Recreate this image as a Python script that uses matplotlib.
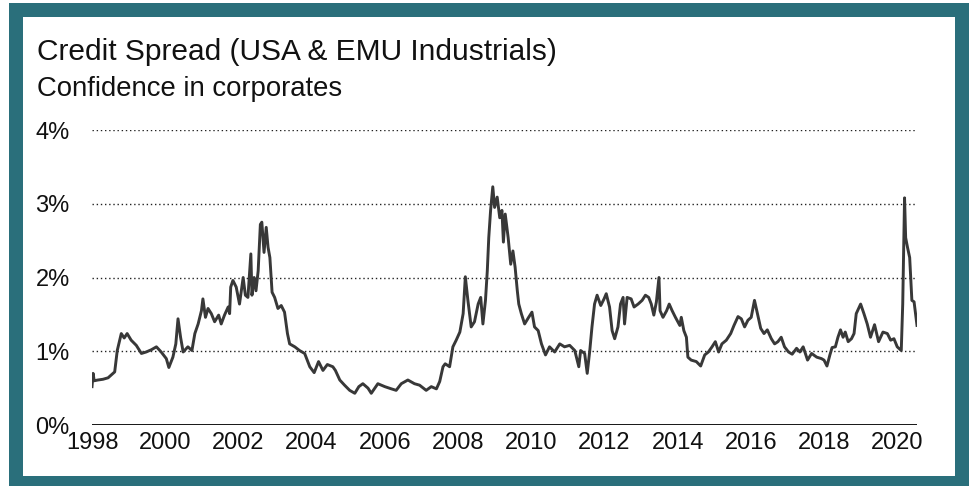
import matplotlib.pyplot as plt
from matplotlib.patches import Rectangle

plt.rcParams['font.family'] = ['Liberation Sans', 'DejaVu Sans']

# decimal year of each reading
dates = [
    1998.00, 1998.03, 1998.06, 1998.16, 1998.30, 1998.44, 1998.62, 1998.69, 1998.80, 1998.88,
    1998.96, 1999.07, 1999.21, 1999.35, 1999.48, 1999.62, 1999.76, 1999.89, 2000.03, 2000.10,
    2000.21, 2000.29, 2000.35, 2000.42, 2000.49, 2000.62, 2000.73, 2000.81, 2000.90, 2000.99,
    2001.03, 2001.10, 2001.17, 2001.26, 2001.35, 2001.46, 2001.53, 2001.62, 2001.72, 2001.76,
    2001.79, 2001.85, 2001.94, 2002.03, 2002.13, 2002.19, 2002.26, 2002.34, 2002.37, 2002.43,
    2002.48, 2002.54, 2002.60, 2002.64, 2002.70, 2002.76, 2002.81, 2002.86, 2002.92, 2002.99,
    2003.08, 2003.17, 2003.26, 2003.34, 2003.40, 2003.54, 2003.67, 2003.81, 2003.95, 2004.07,
    2004.19, 2004.31, 2004.43, 2004.58, 2004.65, 2004.77, 2004.90, 2005.04, 2005.18, 2005.29,
    2005.40, 2005.54, 2005.63, 2005.81, 2006.00, 2006.18, 2006.31, 2006.45, 2006.63, 2006.81,
    2006.95, 2007.13, 2007.27, 2007.41, 2007.50, 2007.59, 2007.65, 2007.77, 2007.86, 2007.95,
    2008.05, 2008.14, 2008.20, 2008.27, 2008.36, 2008.45, 2008.55, 2008.62, 2008.68, 2008.75,
    2008.80, 2008.84, 2008.89, 2008.95, 2009.00, 2009.07, 2009.14, 2009.20, 2009.24, 2009.29,
    2009.37, 2009.44, 2009.50, 2009.56, 2009.62, 2009.66, 2009.73, 2009.82, 2009.93, 2010.02,
    2010.09, 2010.19, 2010.28, 2010.39, 2010.50, 2010.64, 2010.78, 2010.91, 2011.05, 2011.19,
    2011.30, 2011.35, 2011.46, 2011.53, 2011.60, 2011.66, 2011.73, 2011.80, 2011.90, 2011.99,
    2012.05, 2012.14, 2012.21, 2012.28, 2012.37, 2012.44, 2012.51, 2012.55, 2012.62, 2012.73,
    2012.81, 2012.92, 2013.03, 2013.12, 2013.21, 2013.28, 2013.35, 2013.42, 2013.49, 2013.52,
    2013.60, 2013.70, 2013.77, 2013.85, 2013.94, 2014.06, 2014.10, 2014.17, 2014.24, 2014.28,
    2014.37, 2014.51, 2014.63, 2014.74, 2014.84, 2014.94, 2015.03, 2015.12, 2015.21, 2015.33,
    2015.45, 2015.54, 2015.65, 2015.74, 2015.83, 2015.92, 2016.01, 2016.10, 2016.18, 2016.27,
    2016.36, 2016.45, 2016.56, 2016.65, 2016.74, 2016.83, 2016.92, 2017.03, 2017.13, 2017.25,
    2017.34, 2017.43, 2017.55, 2017.66, 2017.80, 2017.93, 2018.00, 2018.08, 2018.16, 2018.22,
    2018.31, 2018.38, 2018.45, 2018.52, 2018.58, 2018.66, 2018.75, 2018.82, 2018.88, 2019.00,
    2019.09, 2019.18, 2019.27, 2019.38, 2019.49, 2019.61, 2019.73, 2019.82, 2019.91, 2020.00,
    2020.11, 2020.15, 2020.20, 2020.23, 2020.28, 2020.34, 2020.40, 2020.46, 2020.54,
]

# credit spread, percent
spread = [
    0.52, 0.70, 0.60, 0.61, 0.62, 0.64, 0.72, 1.01, 1.24, 1.18,
    1.24, 1.15, 1.08, 0.97, 0.99, 1.02, 1.06, 0.99, 0.90, 0.78,
    0.92, 1.10, 1.44, 1.19, 0.99, 1.06, 1.01, 1.24, 1.37, 1.55,
    1.71, 1.46, 1.58, 1.51, 1.40, 1.49, 1.37, 1.49, 1.60, 1.51,
    1.87, 1.96, 1.87, 1.64, 2.00, 1.76, 1.73, 2.32, 1.76, 2.00,
    1.82, 2.09, 2.72, 2.75, 2.34, 2.68, 2.41, 2.27, 1.80, 1.73,
    1.58, 1.62, 1.53, 1.24, 1.10, 1.06, 1.01, 0.97, 0.79, 0.71,
    0.86, 0.74, 0.82, 0.79, 0.74, 0.61, 0.54, 0.47, 0.43, 0.52,
    0.56, 0.50, 0.43, 0.56, 0.52, 0.49, 0.47, 0.56, 0.61, 0.56,
    0.54, 0.47, 0.52, 0.49, 0.59, 0.79, 0.83, 0.79, 1.06, 1.15,
    1.26, 1.51, 2.01, 1.69, 1.33, 1.40, 1.64, 1.73, 1.37, 1.69,
    2.09, 2.54, 2.91, 3.23, 2.95, 3.09, 2.81, 2.91, 2.48, 2.86,
    2.54, 2.18, 2.36, 2.14, 1.82, 1.64, 1.51, 1.37, 1.46, 1.53,
    1.33, 1.28, 1.10, 0.95, 1.06, 0.99, 1.10, 1.06, 1.08, 1.01,
    0.79, 1.01, 0.97, 0.70, 1.01, 1.33, 1.64, 1.76, 1.62, 1.71,
    1.78, 1.60, 1.28, 1.17, 1.33, 1.64, 1.73, 1.37, 1.73, 1.71,
    1.60, 1.64, 1.69, 1.76, 1.73, 1.64, 1.49, 1.67, 2.00, 1.55,
    1.46, 1.55, 1.64, 1.55, 1.46, 1.35, 1.46, 1.28, 1.19, 0.92,
    0.88, 0.86, 0.80, 0.95, 0.99, 1.06, 1.13, 0.99, 1.10, 1.15,
    1.24, 1.35, 1.47, 1.44, 1.33, 1.42, 1.46, 1.69, 1.51, 1.31,
    1.24, 1.29, 1.17, 1.10, 1.13, 1.19, 1.06, 0.99, 0.96, 1.04,
    0.99, 1.06, 0.88, 0.97, 0.92, 0.90, 0.88, 0.80, 0.95, 1.05,
    1.06, 1.19, 1.29, 1.19, 1.26, 1.13, 1.17, 1.24, 1.51, 1.64,
    1.51, 1.37, 1.19, 1.36, 1.13, 1.26, 1.24, 1.15, 1.17, 1.06,
    1.01, 1.64, 3.08, 2.54, 2.41, 2.27, 1.69, 1.67, 1.35,
]

years = list(range(1998, 2021, 2))
pct_ticks = [0, 1, 2, 3, 4]

W, H = 969, 486
fig = plt.figure(figsize=(W / 100, H / 100), dpi=100)
fig.patch.set_facecolor('white')

# teal frame
teal = '#2a6f7b'
fig.patches.append(Rectangle((9 / W, 0), 1, 1 - 3 / H, transform=fig.transFigure,
                             facecolor=teal, edgecolor='none', zorder=-2))
fig.patches.append(Rectangle((23 / W, 10 / H), (955 - 23) / W, (476 - 17) / H,
                             transform=fig.transFigure, facecolor='white',
                             edgecolor='none', zorder=-1))

ax = fig.add_axes([92 / W, 1 - 425 / H, (917 - 92) / W, (425 - 130) / H])
ax.set_facecolor('none')
ax.set_zorder(2)

ax.plot(dates, spread, color='#383838', lw=2.1, zorder=3, solid_joinstyle='round')

ax.set_xlim(1998, 2020.54)
ax.set_ylim(0, 4)
ax.set_xticks(years)
ax.set_xticklabels([str(y) for y in years])
ax.set_yticks(pct_ticks)
ax.set_yticklabels([f'{p}%' for p in pct_ticks])
ax.tick_params(length=0, labelsize=17, colors='#111111')
ax.tick_params(axis='y', pad=16)
ax.tick_params(axis='x', pad=5)

for p in pct_ticks[1:]:
    ax.axhline(p, color='#222222', lw=1, ls=(0, (1, 2)), zorder=1)
ax.axhline(0, color='black', lw=2, zorder=2)

for s in ax.spines.values():
    s.set_visible(False)

fig.text(37 / W, 1 - 52 / H, 'Credit Spread (USA & EMU Industrials)',
         fontsize=21.5, va='center', ha='left', color='#111111')
fig.text(37 / W, 1 - 89 / H, 'Confidence in corporates',
         fontsize=19.8, va='center', ha='left', color='#111111')

fig.savefig('out.png', dpi=100, facecolor=fig.get_facecolor())
